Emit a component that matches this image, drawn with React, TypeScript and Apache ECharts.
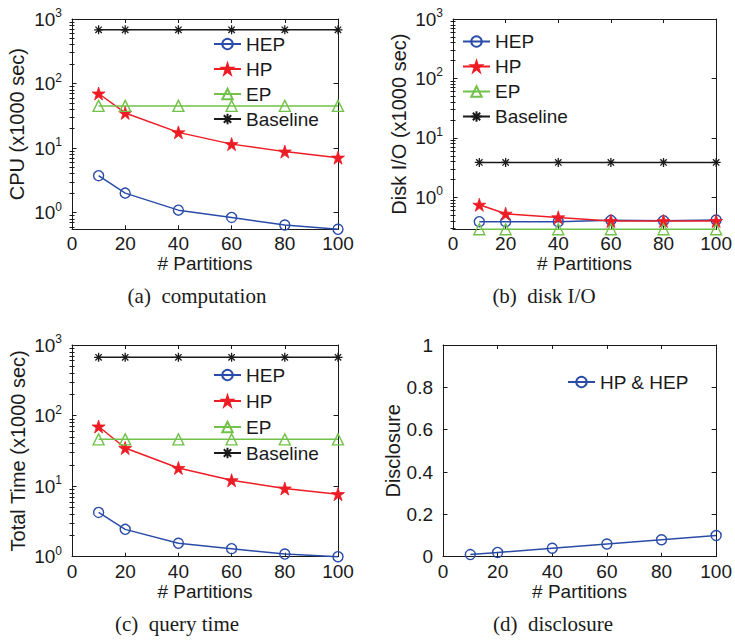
import React, { useEffect, useRef } from 'react';
import * as echarts from 'echarts';

const partitions = [10, 20, 40, 60, 80, 100];

const cpuHEP = [3.73, 2.0, 1.09, 0.84, 0.64, 0.55];
const cpuHP = [70, 35, 17.5, 11.5, 8.8, 7.1];
const cpuEP = [45, 45, 45, 45, 45, 45];
const cpuBaseline = [680, 680, 680, 680, 680, 680];

const ioHEP = [0.39, 0.39, 0.39, 0.41, 0.405, 0.415];
const ioHP = [0.75, 0.53, 0.46, 0.4, 0.4, 0.4];
const ioEP = [0.29, 0.29, 0.29, 0.29, 0.29, 0.29];
const ioBaseline = [3.86, 3.86, 3.86, 3.86, 3.86, 3.86];

const timeHEP = [4.24, 2.44, 1.55, 1.3, 1.09, 1.0];
const timeHP = [70, 34.7, 18.1, 12.1, 9.25, 7.7];
const timeEP = [46, 46, 46, 46, 46, 46];
const timeBaseline = [670, 670, 670, 670, 670, 670];

const disclosureHPHEP = [0.01, 0.02, 0.04, 0.06, 0.08, 0.1];

const legendNames = ['HEP', 'HP', 'EP', 'Baseline'];
const logMajorTicks = [1, 10, 100, 1000];
const captions = ['(a)  computation', '(b)  disk I/O', '(c)  query time', '(d)  disclosure'];
const yTitles = ['CPU (x1000 sec)', 'Disk I/O (x1000 sec)', 'Total Time (x1000 sec)', 'Disclosure'];
const xTitle = '# Partitions';

const AX = '#1a1a1a';
const SANS = 'Liberation Sans';
const BLUE = '#2a4ca8';
const RED = '#ee1c24';
const GREEN = '#72c24a';
const BLACK = '#1a1a1a';

const STAR =
  'path://M0,-10 L2.245,-3.09 L9.51,-3.09 L3.633,1.18 L5.88,8.09 L0,3.82 L-5.88,8.09 L-3.633,1.18 L-9.51,-3.09 L-2.245,-3.09 Z';
const ASTER =
  'path://M0,-10 L0,10 M-10,0 L10,0 M-7.07,-7.07 L7.07,7.07 M-7.07,7.07 L7.07,-7.07';

function minorTicks(min: number, max: number): number[] {
  const out: number[] = [];
  for (let d = -2; d <= 3; d++) {
    for (let k = 2; k <= 9; k++) {
      const v = k * Math.pow(10, d);
      if (v >= min && v <= max) out.push(v);
    }
  }
  return out;
}

const seriesStyle: Record<string, any> = {
  HEP: { symbol: 'circle', symbolSize: 10, color: BLUE, fill: 'rgba(0,0,0,0)', bw: 1.4 },
  HP: { symbol: STAR, symbolSize: 13, color: RED, fill: RED, bw: 0.8 },
  EP: { symbol: 'triangle', symbolSize: 11, color: GREEN, fill: 'rgba(0,0,0,0)', bw: 1.4 },
  Baseline: { symbol: ASTER, symbolSize: 9, color: BLACK, fill: 'rgba(0,0,0,0)', bw: 1.3 },
  'HP & HEP': { symbol: 'circle', symbolSize: 10, color: BLUE, fill: 'rgba(0,0,0,0)', bw: 1.4 },
};

export default function App() {
  const ref = useRef<HTMLDivElement>(null);

  useEffect(() => {
    if (!ref.current) return;
    const chart = echarts.init(ref.current, undefined, { renderer: 'svg' });

    const grids = [
      { left: 72, top: 19, width: 266, height: 210.3 },
      { left: 453, top: 19, width: 265, height: 210.3 },
      { left: 72, top: 345, width: 266, height: 211.7 },
      { left: 443, top: 345, width: 275, height: 211.7 },
    ];

    const xAxis: any[] = [];
    const yAxis: any[] = [];
    const series: any[] = [];

    const lineStyleAx = { color: AX, width: 1 };

    const addX = (g: number) => {
      const idx = xAxis.length;
      xAxis.push({
        type: 'value', gridIndex: g, min: 0, max: 100, interval: 20, position: 'bottom',
        name: xTitle, nameLocation: 'middle', nameGap: 20,
        nameTextStyle: { fontSize: 19, color: AX, fontFamily: SANS },
        axisLine: { show: true, onZero: false, lineStyle: lineStyleAx },
        axisTick: { show: true, inside: true, length: 4, lineStyle: lineStyleAx },
        axisLabel: { fontSize: 19, color: AX, fontFamily: SANS, margin: 5 },
        splitLine: { show: false },
      });
      xAxis.push({
        type: 'value', gridIndex: g, min: 0, max: 100, interval: 20, position: 'top',
        axisLine: { show: true, onZero: false, lineStyle: lineStyleAx },
        axisTick: { show: true, inside: true, length: 4, lineStyle: lineStyleAx },
        axisLabel: { show: false },
        splitLine: { show: false },
      });
      return idx;
    };

    const supRich = {
      b: { fontSize: 19, fontFamily: SANS, color: AX, lineHeight: 24 },
      s: { fontSize: 12, fontFamily: SANS, color: AX, lineHeight: 12, verticalAlign: 'top' },
    };

    const addLogY = (g: number, min: number, max: number, name: string, nameGap: number) => {
      const idx = yAxis.length;
      const minor = minorTicks(min, max);
      const base = {
        type: 'log', logBase: 10, gridIndex: g, min, max,
        splitLine: { show: false },
        axisLine: { show: true, onZero: false, lineStyle: lineStyleAx },
      };
      yAxis.push({
        ...base, position: 'left',
        name, nameLocation: 'middle', nameGap,
        nameTextStyle: { fontSize: 20, color: AX, fontFamily: SANS },
        axisTick: { show: true, inside: true, length: 4.5, customValues: logMajorTicks, lineStyle: lineStyleAx },
        axisLabel: {
          show: true, margin: 10, customValues: logMajorTicks,
          formatter: (v: number) => `{b|10}{s|${Math.round(Math.log10(v))}}`,
          rich: supRich,
        },
      });
      yAxis.push({
        ...base, position: 'left',
        axisLine: { show: false },
        axisTick: { show: true, inside: true, length: 2.5, customValues: minor, lineStyle: lineStyleAx },
        axisLabel: { show: false },
      });
      yAxis.push({
        ...base, position: 'right',
        axisTick: { show: true, inside: true, length: 4.5, customValues: logMajorTicks, lineStyle: lineStyleAx },
        axisLabel: { show: false },
      });
      yAxis.push({
        ...base, position: 'right',
        axisLine: { show: false },
        axisTick: { show: true, inside: true, length: 2.5, customValues: minor, lineStyle: lineStyleAx },
        axisLabel: { show: false },
      });
      return idx;
    };

    const addLinY = (g: number, name: string, nameGap: number) => {
      const idx = yAxis.length;
      const base = {
        type: 'value', gridIndex: g, min: 0, max: 1, interval: 0.2,
        splitLine: { show: false },
        axisLine: { show: true, onZero: false, lineStyle: lineStyleAx },
        axisTick: { show: true, inside: true, length: 4.5, lineStyle: lineStyleAx },
      };
      yAxis.push({
        ...base, position: 'left',
        name, nameLocation: 'middle', nameGap,
        nameTextStyle: { fontSize: 20, color: AX, fontFamily: SANS },
        axisLabel: { fontSize: 19, color: AX, fontFamily: SANS, margin: 10 },
      });
      yAxis.push({ ...base, position: 'right', axisLabel: { show: false } });
      return idx;
    };

    const addSeries = (name: string, data: number[], xi: number, yi: number) => {
      const st = seriesStyle[name];
      series.push({
        type: 'line', name, xAxisIndex: xi, yAxisIndex: yi,
        data: partitions.map((x, i) => [x, data[i]]),
        symbol: st.symbol, symbolSize: st.symbolSize, showSymbol: true, showAllSymbol: true,
        clip: false,
        lineStyle: { color: st.color, width: 1.5 },
        itemStyle: { color: st.fill, borderColor: st.color, borderWidth: st.bw },
        emphasis: { disabled: true },
        z: 3,
      });
    };

    // (a)
    let xi = addX(0);
    let yi = addLogY(0, 0.55, 1000.5, yTitles[0], 45);
    addSeries('HEP', cpuHEP, xi, yi);
    addSeries('HP', cpuHP, xi, yi);
    addSeries('EP', cpuEP, xi, yi);
    addSeries('Baseline', cpuBaseline, xi, yi);
    // (b)
    xi = addX(1);
    yi = addLogY(1, 0.29, 1000.5, yTitles[1], 44);
    addSeries('HEP', ioHEP, xi, yi);
    addSeries('HP', ioHP, xi, yi);
    addSeries('EP', ioEP, xi, yi);
    addSeries('Baseline', ioBaseline, xi, yi);
    // (c)
    xi = addX(2);
    yi = addLogY(2, 1, 1000.5, yTitles[2], 44);
    addSeries('HEP', timeHEP, xi, yi);
    addSeries('HP', timeHP, xi, yi);
    addSeries('EP', timeEP, xi, yi);
    addSeries('Baseline', timeBaseline, xi, yi);
    // (d)
    xi = addX(3);
    yi = addLinY(3, yTitles[3], 38);
    addSeries('HP & HEP', disclosureHPHEP, xi, yi);

    const legendBase = {
      orient: 'vertical', itemWidth: 27, itemHeight: 13, itemGap: 5, padding: 0,
      selectedMode: false,
      textStyle: { fontSize: 19, color: AX, fontFamily: SANS, lineHeight: 20 },
    };

    const captionPos = [
      [197, 296],
      [544, 296],
      [177, 624],
      [553, 624],
    ];

    chart.setOption({
      animation: false,
      backgroundColor: '#ffffff',
      grid: grids.map((g) => ({ ...g, containLabel: false })),
      xAxis,
      yAxis,
      series,
      legend: [
        { ...legendBase, data: legendNames, left: 213, top: 34 },
        { ...legendBase, data: legendNames, left: 462, top: 31.5 },
        { ...legendBase, data: legendNames, left: 213, top: 365, itemGap: 6 },
        { ...legendBase, data: ['HP & HEP'], left: 567, top: 372 },
      ],
      graphic: captions.map((c, i) => ({
        type: 'text',
        x: captionPos[i][0],
        y: captionPos[i][1],
        style: {
          text: c,
          fontSize: 21,
          fontFamily: 'Liberation Serif',
          fill: '#1a1a1a',
          textAlign: 'center',
          textVerticalAlign: 'middle',
        },
      })),
    });

    return () => chart.dispose();
  }, []);

  return (
    <div
      ref={ref}
      style={{ position: 'absolute', left: 0, top: 0, width: 735, height: 640, background: '#fff' }}
    />
  );
}
